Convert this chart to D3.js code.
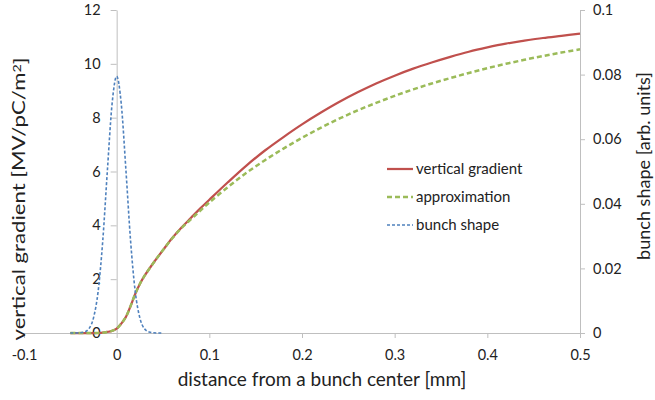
<!DOCTYPE html>
<html>
<head>
<meta charset="utf-8">
<script src="https://cdn.jsdelivr.net/npm/d3@7"></script>
<style>
  body { margin: 0; background: #fff; }
  svg text { font-family: Lato, "Open Sans", sans-serif; fill: #222; }
</style>
</head>
<body>
<div id="container"></div>
<script>
// distance from bunch center [mm] for gradient curves
var gradX = [-0.05, -0.04, -0.03, -0.02, -0.015, -0.01, -0.005, 0, 0.005, 0.01, 0.015, 0.02, 0.025, 0.03,
  0.04, 0.05, 0.06, 0.07, 0.08, 0.09, 0.1, 0.12, 0.14, 0.16, 0.18, 0.2, 0.22, 0.24, 0.26, 0.28, 0.3,
  0.32, 0.34, 0.36, 0.38, 0.4, 0.42, 0.44, 0.46, 0.48, 0.5];
var verticalGradient = [0, 0, 0, 0, 0.01, 0.04, 0.08, 0.16, 0.35, 0.6, 1.0, 1.45, 1.82, 2.12,
  2.62, 3.08, 3.53, 3.92, 4.27, 4.62, 4.95, 5.6, 6.22, 6.78, 7.28, 7.75, 8.18, 8.58, 8.94, 9.27, 9.56,
  9.82, 10.05, 10.26, 10.45, 10.61, 10.75, 10.86, 10.96, 11.04, 11.12];
var approximation = [0, 0, 0, 0, 0.01, 0.04, 0.08, 0.16, 0.35, 0.6, 1.0, 1.45, 1.82, 2.12,
  2.62, 3.08, 3.52, 3.9, 4.22, 4.54, 4.85, 5.42, 5.95, 6.42, 6.85, 7.25, 7.62, 7.96, 8.27, 8.55, 8.81,
  9.05, 9.27, 9.47, 9.66, 9.84, 10.0, 10.15, 10.29, 10.42, 10.54];

// bunch shape (right axis)
var bunchX = [-0.05, -0.045, -0.04, -0.035, -0.03, -0.025, -0.02, -0.015, -0.01, -0.005, 0,
  0.005, 0.01, 0.015, 0.02, 0.025, 0.03, 0.035, 0.04, 0.045, 0.05];
var bunchShape = [0, 0.00001, 0.00006, 0.0003, 0.0013, 0.0047, 0.0129, 0.0286, 0.0504, 0.0708, 0.0795,
  0.0708, 0.0504, 0.0286, 0.0129, 0.0047, 0.0013, 0.0003, 0.00006, 0.00001, 0];

var xTicks = [-0.1, 0, 0.1, 0.2, 0.3, 0.4, 0.5];
var yLeftTicks = [0, 2, 4, 6, 8, 10, 12];
var yRightTicks = [0, 0.02, 0.04, 0.06, 0.08, 0.1];

var seriesNames = ['vertical gradient', 'approximation', 'bunch shape'];
var seriesColors = ['#c0504d', '#9bbb59', '#4f81bd'];
var seriesDash = [null, '5,3', '3,2'];
var seriesWidth = [2.25, 2.5, 1.6];

var width = 655, height = 400;
var axisColor = '#bfbfbf';

var svg = d3.select('#container').append('svg')
  .attr('width', width)
  .attr('height', height);

var x = d3.scaleLinear().domain([-0.1, 0.5]).range([24, 580]);
var yL = d3.scaleLinear().domain([0, 12]).range([333, 10]);
var yR = d3.scaleLinear().domain([0, 0.1]).range([333, 10]);

function fmt(d) { return String(+d.toFixed(2)); }

// x axis
var gx = svg.append('g')
  .attr('transform', 'translate(0,' + yL(0) + ')')
  .call(d3.axisBottom(x).tickValues(xTicks).tickFormat(fmt).tickSize(5).tickSizeOuter(0).tickPadding(12));

// left axis sits at x = 0
var gl = svg.append('g')
  .attr('transform', 'translate(' + x(0) + ',0)')
  .call(d3.axisLeft(yL).tickValues(yLeftTicks).tickFormat(fmt).tickSize(6).tickSizeOuter(0).tickPadding(10));

// right axis
var gr = svg.append('g')
  .attr('transform', 'translate(' + x(0.5) + ',0)')
  .call(d3.axisRight(yR).tickValues(yRightTicks).tickFormat(fmt).tickSize(5).tickSizeOuter(0).tickPadding(8));

[gx, gl, gr].forEach(function (g) {
  g.selectAll('path, line').attr('stroke', axisColor);
  g.selectAll('text').style('font-size', '14.5px').attr('fill', '#222');
});

// lines
var lineL = d3.line().x(function (d) { return x(d[0]); }).y(function (d) { return yL(d[1]); }).curve(d3.curveCatmullRom.alpha(0.5));
var lineR = d3.line().x(function (d) { return x(d[0]); }).y(function (d) { return yR(d[1]); }).curve(d3.curveMonotoneX);

var seriesData = [
  { pts: d3.zip(gradX, verticalGradient), line: lineL },
  { pts: d3.zip(gradX, approximation), line: lineL },
  { pts: d3.zip(bunchX, bunchShape), line: lineR }
];

seriesData.forEach(function (s, i) {
  svg.append('path')
    .attr('d', s.line(s.pts))
    .attr('fill', 'none')
    .attr('stroke', seriesColors[i])
    .attr('stroke-width', seriesWidth[i])
    .attr('stroke-dasharray', seriesDash[i]);
});

// legend
var legend = svg.append('g').attr('transform', 'translate(387,169)');
seriesNames.forEach(function (name, i) {
  var g = legend.append('g').attr('transform', 'translate(0,' + (i * 28) + ')');
  g.append('line')
    .attr('x1', 0).attr('x2', 26).attr('y1', 0).attr('y2', 0)
    .attr('stroke', seriesColors[i])
    .attr('stroke-width', seriesWidth[i])
    .attr('stroke-dasharray', seriesDash[i]);
  g.append('text')
    .attr('x', 29).attr('y', 5)
    .style('font-size', '15px')
    .text(name);
});

// axis titles
svg.append('text')
  .attr('x', 322).attr('y', 386)
  .attr('text-anchor', 'middle')
  .style('font-size', '19px')
  .text('distance from a bunch center [mm]');

// vertical titles get stretched along their length to cover the same span as the original
function vTitle(bx, cy, len) {
  var t = svg.append('text')
    .attr('text-anchor', 'middle')
    .style('font-size', '17px');
  t.place = function () {
    var w = t.node().getBBox().width;
    t.attr('transform', 'translate(' + bx + ',' + cy + ') rotate(-90) scale(' + (len / w) + ',1)');
    return t;
  };
  return t;
}

var lt = vTitle(25, 199, 283);
lt.append('tspan').text('vertical gradient [MV/pC/m');
lt.append('tspan').attr('dy', '-0.4em').style('font-size', '11px').text('2');
lt.append('tspan').attr('dy', '0.4em').text(']');
lt.place();

var rt = vTitle(650, 166, 188);
rt.text('bunch shape [arb. units]');
rt.place();
</script>
</body>
</html>
